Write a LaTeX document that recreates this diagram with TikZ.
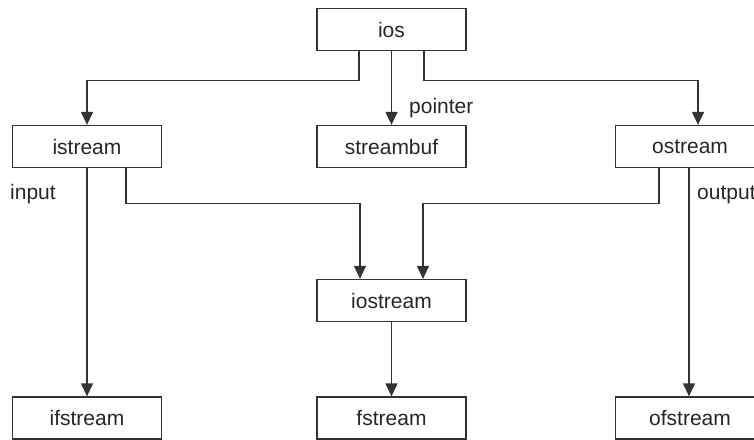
\documentclass[tikz,border=0pt]{standalone}
\usepackage{fontspec}
\setmainfont{Liberation Sans}
\usetikzlibrary{arrows.meta}
\tikzset{
    cls/.style = {draw = black!80, line width = 1.3pt, minimum width = 149pt, minimum height = 42pt, inner sep = 0pt, text = black!85, font = \fontsize{21}{25}\selectfont},
    arr/.style = {draw = black!80, line width = 1.3pt, -{Triangle[length = 13pt, width = 12pt]}},
    lbl/.style = {text = black!85, font = \fontsize{21}{25}\selectfont, inner sep = 0pt}
}
\begin{document}
\begin{tikzpicture}[x = 1pt, y = -1pt]
        \useasboundingbox (0, 0) rectangle (754, 439);
        \node [cls] (ios) at (391.5, 29.5) {ios};
        \node [cls] (istream) at (87, 146.5) {istream};
        \node [cls] (streambuf) at (391.5, 146.5) {streambuf};
        \node [cls] (ostream) at (690, 146.5) {ostream};
        \node [cls] (iostream) at (391.5, 300.5) {iostream};
        \node [cls] (ifstream) at (87, 418) {ifstream};
        \node [cls] (fstream) at (391.5, 418) {fstream};
        \node [cls] (ofstream) at (690, 418) {ofstream};
        \node [lbl, anchor = base west] (pointer) at (409, 113) {pointer};
        \node [lbl, anchor = base west] (input) at (10, 199) {input};
        \node [lbl, anchor = base west] (output) at (697, 199) {output};
        \draw [arr] ([xshift = -32.5pt]ios.south) -- ++(0, 29) -| (istream.north);
        \draw [arr] (ios) -- (streambuf);
        \draw [arr] ([xshift = 32.5pt]ios.south) -- ++(0, 29) -| ([xshift = 8pt]ostream.north);
        \draw [arr] (istream) -- (ifstream);
        \draw [arr] ([xshift = 39pt]istream.south) -- ++(0, 35) -| ([xshift = -31.5pt]iostream.north);
        \draw [arr] ([xshift = -31pt]ostream.south) -- ++(0, 35) -| ([xshift = 31.5pt]iostream.north);
        \draw [arr] ([xshift = -1pt]ostream.south) -- ([xshift = -1pt]ofstream.north);
        \draw [arr] (iostream) -- (fstream);
\end{tikzpicture}
\end{document}
